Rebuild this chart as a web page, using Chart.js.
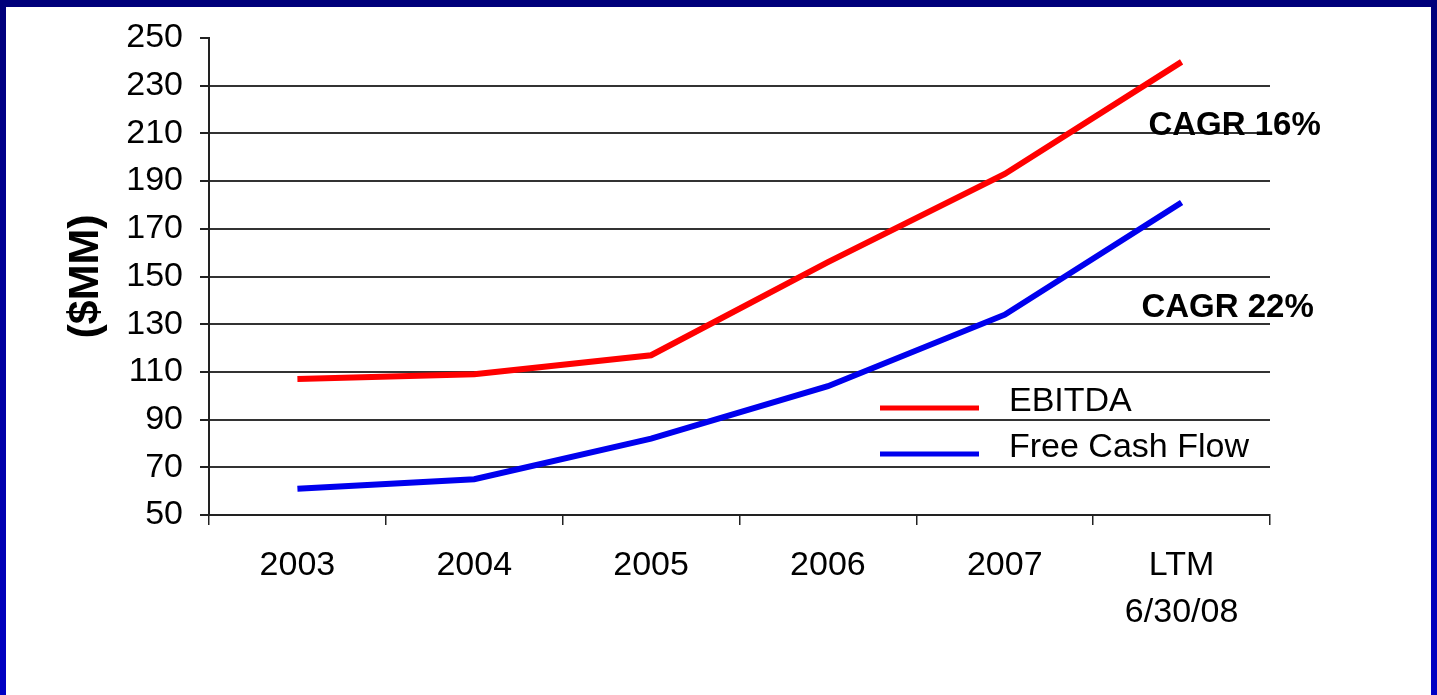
<!DOCTYPE html>
<html>
<head>
<meta charset="utf-8">
<script src="https://cdn.jsdelivr.net/npm/chart.js@4.4.0/dist/chart.umd.min.js"></script>
<style>
  html, body { margin: 0; padding: 0; width: 1437px; height: 695px; overflow: hidden; }
  #frame { position: absolute; left: 0; top: 0; width: 1437px; height: 695px;
           background: linear-gradient(#00007a, #0000c4); }
  #paper { position: absolute; left: 6px; top: 7px; right: 6px; bottom: 0; background: #fff; }
  #myChart { position: absolute; left: 0; top: 0; }
</style>
</head>
<body>
<div id="frame"><div id="paper"></div></div>
<canvas id="myChart" width="1437" height="695"></canvas>
<script>
'use strict';

// Chart data
const years = ['2003', '2004', '2005', '2006', '2007', ['LTM', '6/30/08']];
const ebitda = [107, 109, 117, 156, 193, 240];
const freeCashFlow = [61, 65, 82, 104, 134, 181];
const yTicks = [50, 70, 90, 110, 130, 150, 170, 190, 210, 230, 250];
const cagrLabels = ['CAGR 16%', 'CAGR 22%'];
const cagrValues = [213, 137];

const FONT = '"Liberation Sans", Arial, sans-serif';

// Legend drawn inside the plot, like the original slide
const insideLegend = {
    id: 'insideLegend',
    afterDraw(chart) {
        const ctx = chart.ctx;
        ctx.save();
        chart.data.datasets.forEach((ds, i) => {
            const y = 408 + i * 46;
            ctx.strokeStyle = ds.borderColor;
            ctx.lineWidth = 5;
            ctx.beginPath();
            ctx.moveTo(880, y);
            ctx.lineTo(979, y);
            ctx.stroke();
            ctx.fillStyle = '#000';
            ctx.font = '34px ' + FONT;
            ctx.textBaseline = 'middle';
            ctx.textAlign = 'left';
            ctx.fillText(ds.label, 1009, y - 6);
        });
        ctx.restore();
    }
};

// CAGR notes next to the line ends
const cagrNotes = {
    id: 'cagrNotes',
    afterDraw(chart) {
        const ctx = chart.ctx;
        const xs = chart.scales.x;
        const ys = chart.scales.y;
        const x0 = xs.getPixelForValue(5);
        ctx.save();
        ctx.fillStyle = '#000';
        ctx.font = 'bold 33px ' + FONT;
        ctx.textBaseline = 'middle';
        ctx.textAlign = 'center';
        ctx.fillText(cagrLabels[0], x0 + 53, ys.getPixelForValue(cagrValues[0]));
        ctx.fillText(cagrLabels[1], x0 + 46, ys.getPixelForValue(cagrValues[1]));
        ctx.restore();
    }
};

function graphInit() {
    const ctx = document.getElementById('myChart').getContext('2d');
    return new Chart(ctx, {
        type: 'line',
        data: {
            labels: years,
            datasets: [{
                label: 'EBITDA',
                data: ebitda,
                borderColor: '#ff0000',
                borderWidth: 6,
                pointRadius: 0,
                tension: 0,
                fill: false
            }, {
                label: 'Free Cash Flow',
                data: freeCashFlow,
                borderColor: '#0000ee',
                borderWidth: 6,
                pointRadius: 0,
                tension: 0,
                fill: false
            }]
        },
        options: {
            responsive: false,
            animation: false,
            layout: { padding: { top: 38, right: 167, left: 0, bottom: 0 } },
            plugins: {
                legend: { display: false },
                tooltip: { enabled: false }
            },
            scales: {
                x: {
                    offset: true,
                    afterFit(scale) { scale.height = 180; },
                    grid: {
                        offset: true,
                        drawOnChartArea: false,
                        color: '#222',
                        lineWidth: 1.5,
                        tickLength: 10
                    },
                    border: { color: '#222', width: 2 },
                    ticks: {
                        color: '#000',
                        padding: 17,
                        maxRotation: 0,
                        font: { family: FONT, size: 34, lineHeight: 1.38 }
                    }
                },
                y: {
                    min: 50,
                    max: 250,
                    afterFit(scale) { scale.width = 209; },
                    afterBuildTicks(scale) { scale.ticks = yTicks.map(v => ({ value: v })); },
                    grid: {
                        color: c => (c.tick && c.tick.value === 250) ? 'rgba(0,0,0,0)' : '#333',
                        lineWidth: 2,
                        tickLength: 9,
                        tickColor: '#222'
                    },
                    border: { color: '#222', width: 2 },
                    ticks: {
                        color: '#000',
                        padding: 17,
                        font: { family: FONT, size: 34 }
                    },
                    title: {
                        display: true,
                        text: '($MM)',
                        color: '#000',
                        padding: { top: 60, bottom: 0 },
                        font: { family: FONT, size: 43, weight: 'bold' }
                    }
                }
            }
        },
        plugins: [insideLegend, cagrNotes]
    });
}

graphInit();
</script>
</body>
</html>
